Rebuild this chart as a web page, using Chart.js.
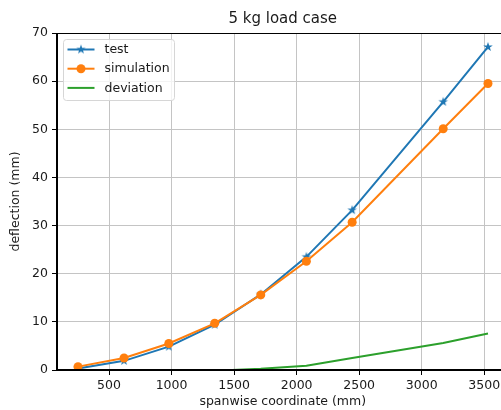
<!DOCTYPE html>
<html>
<head>
<meta charset="utf-8">
<script src="https://cdn.jsdelivr.net/npm/chart.js@4/dist/chart.umd.min.js"></script>
<style>
  html, body { margin: 0; padding: 0; background: #fff; overflow: hidden; }
  canvas { display: block; }
</style>
</head>
<body>
<canvas id="loadChart" width="520" height="410"></canvas>
<script>
// spanwise stations (mm)
const stations = [252, 620, 978, 1345, 1713, 2078, 2444, 3172, 3530];
// measured and simulated deflection (mm)
const testDeflection = [0.3, 1.9, 4.85, 9.4, 15.7, 23.5, 33.2, 55.7, 67.1];
const simDeflection = [0.7, 2.5, 5.5, 9.7, 15.6, 22.6, 30.7, 50.1, 59.5];
const deviation = [-0.4, -0.6, -0.65, -0.15, 0.25, 0.9, 2.5, 5.6, 7.6];

const xTicks = [500, 1000, 1500, 2000, 2500, 3000, 3500];
const yTicks = [0, 10, 20, 30, 40, 50, 60, 70];

const BLUE = '#1f77b4', ORANGE = '#ff7f0e', GREEN = '#2ca02c';
const FONT = 'DejaVu Sans';
const TEXT = '#1a1a1a';

function starMarker(color, r) {
  const c = document.createElement('canvas');
  c.width = c.height = Math.ceil(r * 2 + 2);
  const g = c.getContext('2d');
  g.translate(c.width / 2, c.height / 2);
  g.beginPath();
  for (let i = 0; i < 10; i++) {
    const rad = i % 2 ? r * 0.4 : r;
    const a = -Math.PI / 2 + i * Math.PI / 5;
    g.lineTo(rad * Math.cos(a), rad * Math.sin(a));
  }
  g.closePath();
  g.fillStyle = color;
  g.fill();
  return c;
}
const star = starMarker(BLUE, 5);

function pts(ys) {
  return stations.map((x, i) => ({ x: x, y: ys[i] }));
}

// title, frame and legend drawn the matplotlib way
const decorations = {
  id: 'decorations',
  afterDatasetsDraw(chart) {
    const { ctx, chartArea: a } = chart;
    ctx.save();
    ctx.strokeStyle = '#000';
    ctx.lineWidth = 1;
    ctx.strokeRect(Math.round(a.left) - 0.5, Math.round(a.top) + 0.5,
      Math.round(a.right - a.left) + 1, Math.round(a.bottom - a.top) - 1);
    ctx.restore();
  },
  afterDraw(chart) {
    const { ctx, chartArea: a } = chart;
    ctx.save();
    ctx.fillStyle = TEXT;
    ctx.font = '15px "' + FONT + '"';
    ctx.textAlign = 'center';
    ctx.textBaseline = 'middle';
    ctx.fillText('5 kg load case', (a.left + a.right) / 2, 19);

    // legend box
    const bx = a.left + 6.5, by = a.top + 6.5, bw = 111, bh = 61;
    ctx.beginPath();
    ctx.roundRect(bx, by, bw, bh, 3);
    ctx.fillStyle = 'rgba(255,255,255,0.8)';
    ctx.fill();
    ctx.strokeStyle = '#d6d6d6';
    ctx.lineWidth = 1;
    ctx.stroke();

    const rows = [
      { label: 'test', color: BLUE, marker: 'star' },
      { label: 'simulation', color: ORANGE, marker: 'circle' },
      { label: 'deviation', color: GREEN, marker: null }
    ];
    ctx.font = '12.5px "' + FONT + '"';
    ctx.textAlign = 'left';
    rows.forEach((r, i) => {
      const y = by + 10 + i * 19.2;
      ctx.beginPath();
      ctx.moveTo(bx + 4, y);
      ctx.lineTo(bx + 31, y);
      ctx.strokeStyle = r.color;
      ctx.lineWidth = 2;
      ctx.stroke();
      const mx = bx + 17.5;
      if (r.marker === 'star') {
        ctx.drawImage(star, mx - star.width / 2, y - star.height / 2);
      } else if (r.marker === 'circle') {
        ctx.beginPath();
        ctx.arc(mx, y, 4.5, 0, Math.PI * 2);
        ctx.fillStyle = r.color;
        ctx.fill();
      }
      ctx.fillStyle = TEXT;
      ctx.fillText(r.label, bx + 41, y + 0.5);
    });
    ctx.restore();
  }
};

new Chart(document.getElementById('loadChart'), {
  type: 'line',
  data: {
    datasets: [
      {
        label: 'test', data: pts(testDeflection), order: 3,
        borderColor: BLUE, backgroundColor: BLUE, borderWidth: 2,
        pointStyle: star, pointRadius: 5, clip: 0
      },
      {
        label: 'simulation', data: pts(simDeflection), order: 2,
        borderColor: ORANGE, backgroundColor: ORANGE, borderWidth: 2,
        pointStyle: 'circle', pointRadius: 4.5, pointBorderWidth: 0, clip: 0
      },
      {
        label: 'deviation', data: pts(deviation), order: 1,
        borderColor: GREEN, backgroundColor: GREEN, borderWidth: 2,
        pointRadius: 0, clip: 0
      }
    ]
  },
  options: {
    responsive: false,
    animation: false,
    devicePixelRatio: 1,
    layout: { padding: { top: 33, right: 11.5, left: 0, bottom: 0 } },
    plugins: {
      legend: { display: false },
      title: { display: false },
      tooltip: { enabled: false }
    },
    scales: {
      x: {
        type: 'linear',
        min: 84, max: 3694,
        afterBuildTicks: axis => { axis.ticks = xTicks.map(v => ({ value: v })); },
        afterFit: axis => { axis.height = 40; },
        ticks: {
          color: TEXT, font: { family: FONT, size: 12.5 }, padding: 3, maxRotation: 0,
          callback: v => String(v)
        },
        grid: { color: '#c4c4c4', lineWidth: 1, tickColor: '#000', tickLength: 5 },
        border: { color: '#000', width: 1 },
        title: {
          display: true, text: 'spanwise coordinate (mm)', color: TEXT,
          font: { family: FONT, size: 12.5 }, padding: { top: 0, bottom: 1 }
        }
      },
      y: {
        min: 0, max: 70,
        afterBuildTicks: axis => { axis.ticks = yTicks.map(v => ({ value: v })); },
        afterFit: axis => { axis.width = 57; },
        ticks: {
          color: TEXT, font: { family: FONT, size: 12.5 }, padding: 4,
          callback: v => String(v)
        },
        grid: { color: '#c4c4c4', lineWidth: 1, tickColor: '#000', tickLength: 5 },
        border: { color: '#000', width: 1 },
        title: {
          display: true, text: 'deflection (mm)', color: TEXT,
          font: { family: FONT, size: 12.5 }, padding: { top: 8.5, bottom: 0 }
        }
      }
    }
  },
  plugins: [decorations]
});
</script>
</body>
</html>
